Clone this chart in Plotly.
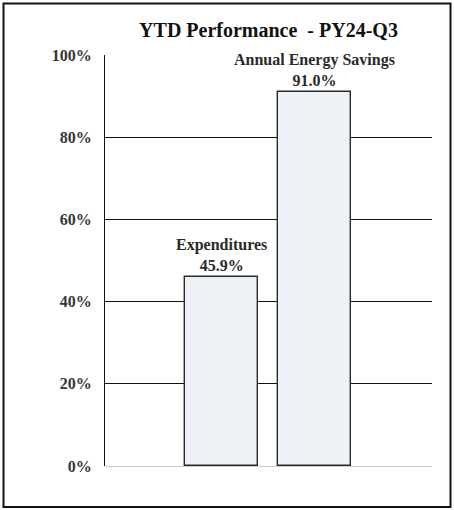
import plotly.graph_objects as go

categories = ["Expenditures", "Annual Energy Savings"]
values = [45.9, 91.0]
tick_vals = [0, 20, 40, 60, 80, 100]
tick_text = [f"<b>{v}%</b>" for v in tick_vals]

W, H = 454, 510
L, R, T, B = 105, 22, 55, 44
pw, ph = W - L - R, H - T - B

def px_x(p):
    return (p - L) / pw

def px_y(p):
    return (H - B - p) / ph

font_family = "Liberation Serif, Times New Roman, serif"

fig = go.Figure()
fig.add_trace(go.Bar(
    x=[0, 1], y=values,
    width=0.79,
    marker=dict(color="#eef1f6", line=dict(color="#2a2a2a", width=1.4)),
    hoverinfo="skip",
))

for i, (c, v) in enumerate(zip(categories, values)):
    fig.add_annotation(
        x=i, y=v, xref="x", yref="y",
        text=f"<b>{c}</b><br><b>{v:.1f}%</b>",
        showarrow=False, yanchor="bottom", yshift=1,
        font=dict(family=font_family, size=16, color="#2a2a2a"),
    )

fig.add_shape(type="rect", xref="paper", yref="paper",
              x0=px_x(3.5), x1=px_x(450.5), y0=px_y(507), y1=px_y(3.5),
              line=dict(color="#111111", width=2), fillcolor="rgba(0,0,0,0)", layer="above")

fig.update_layout(
    width=W, height=H,
    margin=dict(l=L, r=R, t=T, b=B),
    paper_bgcolor="white", plot_bgcolor="white",
    showlegend=False,
    title=dict(text="<b>YTD Performance  - PY24-Q3</b>", x=0.5, xref="paper",
               y=(H - 30) / H, yref="container", xanchor="center", yanchor="middle",
               font=dict(family=font_family, size=20, color="#111111")),
    xaxis=dict(range=[-1.26, 2.275], showticklabels=False, showgrid=False,
               zeroline=False, showline=False, fixedrange=True),
    yaxis=dict(range=[0, 100], tickvals=tick_vals, ticktext=tick_text,
               showgrid=True, gridcolor="#111111", gridwidth=1,
               zeroline=True, zerolinecolor="#cccccc", zerolinewidth=1,
               showline=True, linecolor="#111111", linewidth=1,
               ticks="", ticklabelstandoff=9,
               tickfont=dict(family=font_family, size=16, color="#3a3530")),
    bargap=0,
)

fig.write_html("out.html")
